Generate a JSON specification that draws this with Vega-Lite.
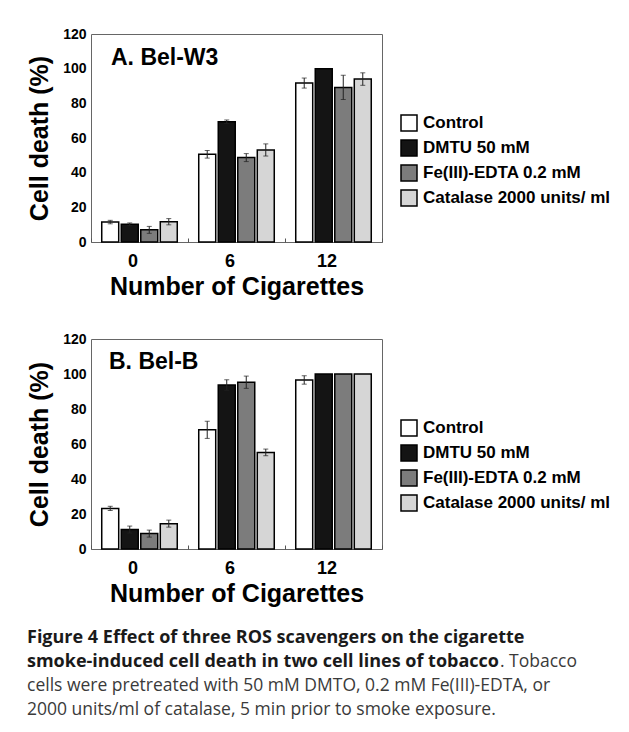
{
  "$schema": "https://vega.github.io/schema/vega-lite/v6.json",
  "background": "white",
  "padding": {"left": 27, "top": 26, "right": 5, "bottom": 0},
  "datasets": {
    "bars": [
      {"panel": "A", "cig": "0", "trt": "Control", "v": 11.5, "e": 1.0},
      {"panel": "A", "cig": "0", "trt": "DMTU 50 mM", "v": 10.2, "e": 0.8},
      {"panel": "A", "cig": "0", "trt": "Fe(III)-EDTA 0.2 mM", "v": 7.0, "e": 2.0},
      {"panel": "A", "cig": "0", "trt": "Catalase 2000 units/ ml", "v": 11.7, "e": 1.8},
      {"panel": "A", "cig": "6", "trt": "Control", "v": 50.6, "e": 2.2},
      {"panel": "A", "cig": "6", "trt": "DMTU 50 mM", "v": 69.4, "e": 1.0},
      {"panel": "A", "cig": "6", "trt": "Fe(III)-EDTA 0.2 mM", "v": 48.7, "e": 2.3},
      {"panel": "A", "cig": "6", "trt": "Catalase 2000 units/ ml", "v": 53.1, "e": 3.5},
      {"panel": "A", "cig": "12", "trt": "Control", "v": 91.7, "e": 2.9},
      {"panel": "A", "cig": "12", "trt": "DMTU 50 mM", "v": 100, "e": 0},
      {"panel": "A", "cig": "12", "trt": "Fe(III)-EDTA 0.2 mM", "v": 89.2, "e": 7.0},
      {"panel": "A", "cig": "12", "trt": "Catalase 2000 units/ ml", "v": 94.0, "e": 3.6},
      {"panel": "B", "cig": "0", "trt": "Control", "v": 23.2, "e": 1.2},
      {"panel": "B", "cig": "0", "trt": "DMTU 50 mM", "v": 11.1, "e": 2.0},
      {"panel": "B", "cig": "0", "trt": "Fe(III)-EDTA 0.2 mM", "v": 8.8, "e": 2.0},
      {"panel": "B", "cig": "0", "trt": "Catalase 2000 units/ ml", "v": 14.5, "e": 2.0},
      {"panel": "B", "cig": "6", "trt": "Control", "v": 68.1, "e": 4.9},
      {"panel": "B", "cig": "6", "trt": "DMTU 50 mM", "v": 93.7, "e": 3.0},
      {"panel": "B", "cig": "6", "trt": "Fe(III)-EDTA 0.2 mM", "v": 95.3, "e": 3.5},
      {"panel": "B", "cig": "6", "trt": "Catalase 2000 units/ ml", "v": 55.2, "e": 1.9},
      {"panel": "B", "cig": "12", "trt": "Control", "v": 96.6, "e": 2.4},
      {"panel": "B", "cig": "12", "trt": "DMTU 50 mM", "v": 100, "e": 0},
      {"panel": "B", "cig": "12", "trt": "Fe(III)-EDTA 0.2 mM", "v": 100, "e": 0},
      {"panel": "B", "cig": "12", "trt": "Catalase 2000 units/ ml", "v": 100, "e": 0}
    ],
    "panels": [
      {"panel": "A", "label": "A. Bel-W3"},
      {"panel": "B", "label": "B. Bel-B"}
    ],
    "caption": [
      {"line": 1, "side": "left", "w": "bold", "t": "Figure 4 Effect of three ROS scavengers on the cigarette"},
      {"line": 2, "side": "left", "w": "bold", "t": "smoke-induced cell death in two cell lines of tobacco"},
      {"line": 2, "side": "right", "w": "normal", "t": ". Tobacco"},
      {"line": 3, "side": "left", "w": "normal", "t": "cells were pretreated with 50 mM DMTO, 0.2 mM Fe(III)-EDTA, or"},
      {"line": 4, "side": "left", "w": "normal", "t": "2000 units/ml of catalase, 5 min prior to smoke exposure."}
    ]
  },
  "spacing": 22,
  "vconcat": [
    {
      "spacing": 31,
      "resolve": {"legend": {"fill": "independent"}},
      "vconcat": [
        {
          "width": 291,
          "height": 208,
          "layer": [
            {
              "data": {"name": "bars"},
              "transform": [{"filter": "datum.panel == 'A'"}],
              "mark": {"type": "bar", "stroke": "black", "strokeWidth": 1.5},
              "encoding": {
                "x": {"field": "cig", "type": "ordinal", "sort": ["0", "6", "12"], "scale": {"paddingInner": 0, "paddingOuter": 0},
                      "axis": {"title": "Number of Cigarettes", "labelAngle": 0, "labelOffset": -7, "ticks": true, "tickBand": "extent", "tickSize": -4, "tickColor": "#555"}},
                "xOffset": {"field": "trt", "type": "nominal", "sort": ["Control", "DMTU 50 mM", "Fe(III)-EDTA 0.2 mM", "Catalase 2000 units/ ml"], "scale": {"paddingInner": 0.13, "paddingOuter": 0.55}},
                "y": {"field": "v", "type": "quantitative", "scale": {"domain": [0, 120]}, "axis": {"title": "Cell death (%)", "values": [0, 20, 40, 60, 80, 100, 120]}},
                "fill": {"field": "trt", "type": "nominal", "sort": ["Control", "DMTU 50 mM", "Fe(III)-EDTA 0.2 mM", "Catalase 2000 units/ ml"],
                         "scale": {"domain": ["Control", "DMTU 50 mM", "Fe(III)-EDTA 0.2 mM", "Catalase 2000 units/ ml"], "range": ["#ffffff", "#141414", "#7c7c7c", "#d6d6d6"]}}
              }
            },
            {
              "data": {"name": "bars"},
              "transform": [{"filter": "datum.panel == 'A' && datum.e > 0"}],
              "mark": {"type": "errorbar", "color": "#222", "ticks": {"size": 5, "color": "#222"}},
              "encoding": {
                "x": {"field": "cig", "type": "ordinal", "sort": ["0", "6", "12"], "axis": {"title": "Number of Cigarettes", "labelAngle": 0, "labelOffset": -7, "ticks": true, "tickBand": "extent", "tickSize": -4, "tickColor": "#555"}},
                "xOffset": {"field": "trt", "type": "nominal", "sort": ["Control", "DMTU 50 mM", "Fe(III)-EDTA 0.2 mM", "Catalase 2000 units/ ml"]},
                "y": {"field": "v", "type": "quantitative", "axis": {"title": "Cell death (%)", "values": [0, 20, 40, 60, 80, 100, 120]}},
                "yError": {"field": "e"}
              }
            },
            {
              "data": {"name": "panels"},
              "transform": [{"filter": "datum.panel == 'A'"}],
              "mark": {"type": "text", "align": "left", "baseline": "alphabetic", "dx": 20, "fontSize": 23, "fontWeight": "bold", "font": "Liberation Sans", "color": "black"},
              "encoding": {
                "x": {"datum": "0", "type": "ordinal", "bandPosition": 0, "axis": {"title": "Number of Cigarettes", "labelAngle": 0, "labelOffset": -7, "ticks": true, "tickBand": "extent", "tickSize": -4, "tickColor": "#555"}},
                "y": {"datum": 102, "type": "quantitative", "axis": {"title": "Cell death (%)", "values": [0, 20, 40, 60, 80, 100, 120]}},
                "text": {"field": "label"}
              }
            }
          ]
        },
        {
          "width": 291,
          "height": 210,
          "layer": [
            {
              "data": {"name": "bars"},
              "transform": [{"filter": "datum.panel == 'B'"}],
              "mark": {"type": "bar", "stroke": "black", "strokeWidth": 1.5},
              "encoding": {
                "x": {"field": "cig", "type": "ordinal", "sort": ["0", "6", "12"], "scale": {"paddingInner": 0, "paddingOuter": 0},
                      "axis": {"title": "Number of Cigarettes", "labelAngle": 0, "labelOffset": -7, "ticks": true, "tickBand": "extent", "tickSize": -4, "tickColor": "#555"}},
                "xOffset": {"field": "trt", "type": "nominal", "sort": ["Control", "DMTU 50 mM", "Fe(III)-EDTA 0.2 mM", "Catalase 2000 units/ ml"], "scale": {"paddingInner": 0.13, "paddingOuter": 0.55}},
                "y": {"field": "v", "type": "quantitative", "scale": {"domain": [0, 120]}, "axis": {"title": "Cell death (%)", "values": [0, 20, 40, 60, 80, 100, 120]}},
                "fill": {"field": "trt", "type": "nominal", "sort": ["Control", "DMTU 50 mM", "Fe(III)-EDTA 0.2 mM", "Catalase 2000 units/ ml"],
                         "scale": {"domain": ["Control", "DMTU 50 mM", "Fe(III)-EDTA 0.2 mM", "Catalase 2000 units/ ml"], "range": ["#ffffff", "#141414", "#7c7c7c", "#d6d6d6"]}}
              }
            },
            {
              "data": {"name": "bars"},
              "transform": [{"filter": "datum.panel == 'B' && datum.e > 0"}],
              "mark": {"type": "errorbar", "color": "#222", "ticks": {"size": 5, "color": "#222"}},
              "encoding": {
                "x": {"field": "cig", "type": "ordinal", "sort": ["0", "6", "12"], "axis": {"title": "Number of Cigarettes", "labelAngle": 0, "labelOffset": -7, "ticks": true, "tickBand": "extent", "tickSize": -4, "tickColor": "#555"}},
                "xOffset": {"field": "trt", "type": "nominal", "sort": ["Control", "DMTU 50 mM", "Fe(III)-EDTA 0.2 mM", "Catalase 2000 units/ ml"]},
                "y": {"field": "v", "type": "quantitative", "axis": {"title": "Cell death (%)", "values": [0, 20, 40, 60, 80, 100, 120]}},
                "yError": {"field": "e"}
              }
            },
            {
              "data": {"name": "panels"},
              "transform": [{"filter": "datum.panel == 'B'"}],
              "mark": {"type": "text", "align": "left", "baseline": "alphabetic", "dx": 18, "fontSize": 23, "fontWeight": "bold", "font": "Liberation Sans", "color": "black"},
              "encoding": {
                "x": {"datum": "0", "type": "ordinal", "bandPosition": 0, "axis": {"title": "Number of Cigarettes", "labelAngle": 0, "labelOffset": -7, "ticks": true, "tickBand": "extent", "tickSize": -4, "tickColor": "#555"}},
                "y": {"datum": 103, "type": "quantitative", "axis": {"title": "Cell death (%)", "values": [0, 20, 40, 60, 80, 100, 120]}},
                "text": {"field": "label"}
              }
            }
          ]
        }
      ]
    },
    {
      "width": 291,
      "height": 72,
      "view": {"stroke": null},
      "data": {"name": "caption"},
      "encoding": {
        "y": {"field": "line", "type": "ordinal", "scale": {"type": "point", "padding": 0}, "axis": null},
        "x": {"field": "side", "type": "ordinal", "scale": {"type": "point", "padding": 0, "domain": ["left", "right"], "range": [-64, 486]}, "axis": null},
        "text": {"field": "t"}
      },
      "layer": [
        {"transform": [{"filter": "datum.w == 'bold'"}],
         "mark": {"type": "text", "align": "left", "baseline": "alphabetic", "font": "Open Sans", "fontWeight": "bold", "fontSize": 18, "color": "#1a1a1a"}},
        {"transform": [{"filter": "datum.w == 'normal' && datum.side == 'left'"}],
         "mark": {"type": "text", "align": "left", "baseline": "alphabetic", "font": "Open Sans", "fontSize": 17.5, "color": "#3a3a3a"}},
        {"transform": [{"filter": "datum.side == 'right'"}],
         "mark": {"type": "text", "align": "right", "baseline": "alphabetic", "font": "Open Sans", "fontSize": 17.5, "color": "#3a3a3a"}}
      ]
    }
  ],
  "config": {
    "font": "Liberation Sans",
    "view": {"stroke": "#666", "strokeWidth": 1},
    "axis": {"domain": false, "grid": false, "labelColor": "black", "labelFont": "Liberation Sans", "labelFontWeight": "bold", "titleColor": "black", "titleFont": "Liberation Sans", "titleFontWeight": "bold"},
    "axisY": {"ticks": false, "labelFontSize": 14, "labelPadding": 5, "labelOverlap": false, "titleFontSize": 25, "titlePadding": 10},
    "axisX": {"labelFontSize": 18, "labelPadding": 14, "titleFontSize": 25, "titlePadding": 4},
    "legend": {"orient": "none", "legendX": 309, "legendY": 80, "title": null, "symbolType": "square", "symbolSize": 256, "symbolStrokeColor": "black", "symbolStrokeWidth": 1.5, "labelFont": "Liberation Sans", "labelFontSize": 17, "labelFontWeight": "bold", "labelColor": "black", "labelOffset": 5, "rowPadding": 3, "padding": 0, "labelLimit": 300}
  }
}
